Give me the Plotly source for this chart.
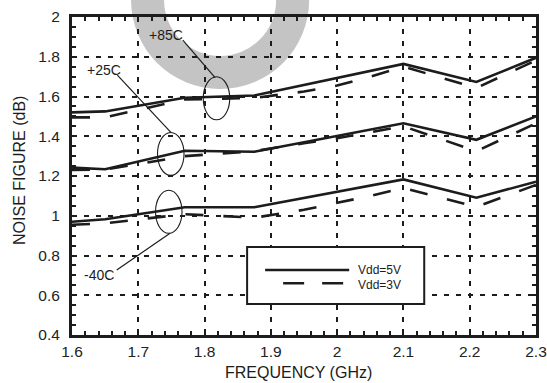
import plotly.graph_objects as go

# ---- data ----
freq_5v = [1.6, 1.65, 1.77, 1.875, 2.1, 2.21, 2.3]
nf_85_5v = [1.52, 1.525, 1.594, 1.605, 1.764, 1.673, 1.795]
nf_25_5v = [1.242, 1.234, 1.327, 1.322, 1.465, 1.382, 1.50]
nf_m40_5v = [0.970, 0.982, 1.043, 1.043, 1.183, 1.091, 1.171]

freq_3v = [1.6, 1.65, 1.77, 1.875, 1.95, 2.0, 2.05, 2.1, 2.21, 2.3]
nf_85_3v = [1.495, 1.495, 1.585, 1.593, 1.625, 1.655, 1.70, 1.75, 1.643, 1.782]
nf_25_3v = [1.23, 1.232, 1.30, 1.325, 1.365, 1.39, 1.42, 1.45, 1.325, 1.465]
nf_m40_3v = [0.955, 0.962, 1.008, 0.99, 1.03, 1.065, 1.10, 1.14, 1.045, 1.155]

x_ticks = [1.6, 1.7, 1.8, 1.9, 2.0, 2.1, 2.2, 2.3]
y_ticks = [0.4, 0.6, 0.8, 1.0, 1.2, 1.4, 1.6, 1.8, 2.0]

temp_labels = ["+85C", "+25C", "-40C"]
label_pos = [(1.7416, 1.909), (1.648, 1.733), (1.641, 0.702)]
ellipse_centers = [(1.818, 1.591), (1.749, 1.311), (1.746, 1.020)]
leader_start = [(1.7671, 1.884), (1.6684, 1.708), (1.6675, 0.727)]
leader_end = [(1.8159, 1.695), (1.7495, 1.418), (1.7479, 0.912)]
legend_names = ["Vdd=5V", "Vdd=3V"]

INK = "#1c1c1c"
FONT = "Liberation Sans, Arial, sans-serif"

fig = go.Figure()
for y in [nf_85_5v, nf_25_5v, nf_m40_5v]:
    fig.add_trace(go.Scatter(x=freq_5v, y=y, mode="lines",
                             line=dict(color=INK, width=2.6), showlegend=False,
                             hoverinfo="skip"))
for y in [nf_85_3v, nf_25_3v, nf_m40_3v]:
    fig.add_trace(go.Scatter(x=freq_3v, y=y, mode="lines",
                             line=dict(color=INK, width=2.6, dash="18px,20px"),
                             showlegend=False, hoverinfo="skip"))

# plot-area geometry in pixels (for paper conversions)
L, R, T, B = 72, 535.7, 17, 335
W, H = R - L, B - T


def px(u):
    return (u - L) / W


def py(v):
    return (B - v) / H


shapes = []
# watermark ring
cx, cy = 220, 0
for r, col in [(89, "#c4c4c4"), (56, "white")]:
    shapes.append(dict(type="circle", xref="paper", yref="paper", layer="below",
                       x0=px(cx - r), x1=px(cx + r), y0=py(cy + r), y1=py(cy - r),
                       fillcolor=col, line=dict(width=0)))

# ellipses and leader lines
for (ex, ey), (sx, sy), (tx, ty) in zip(ellipse_centers, leader_start, leader_end):
    shapes.append(dict(type="circle", xref="x", yref="y",
                       x0=ex - 0.0200, x1=ex + 0.0200, y0=ey - 0.108, y1=ey + 0.108,
                       line=dict(color=INK, width=1.1)))
    shapes.append(dict(type="line", xref="x", yref="y", x0=sx, y0=sy, x1=tx, y1=ty,
                       line=dict(color=INK, width=1.2)))

# legend box
shapes.append(dict(type="rect", xref="paper", yref="paper",
                   x0=px(247), x1=px(424), y0=py(304), y1=py(247),
                   fillcolor="white", line=dict(color=INK, width=2)))
shapes.append(dict(type="line", xref="paper", yref="paper",
                   x0=px(265), x1=px(349), y0=py(270), y1=py(270),
                   line=dict(color=INK, width=2.6)))
shapes.append(dict(type="line", xref="paper", yref="paper",
                   x0=px(283), x1=px(344), y0=py(283.3), y1=py(283.3),
                   line=dict(color=INK, width=2.6, dash="21px,18px")))

annotations = []
for t, (ax_, ay_) in zip(temp_labels, label_pos):
    annotations.append(dict(x=ax_, y=ay_, xref="x", yref="y", text=t, showarrow=False,
                            font=dict(family=FONT, size=14, color=INK),
                            xanchor="center", yanchor="middle"))
for name, yy in zip(legend_names, [270, 284.5]):
    annotations.append(dict(x=px(357), y=py(yy), xref="paper", yref="paper", text=name,
                            showarrow=False, xanchor="left", yanchor="middle",
                            borderpad=0,
                            font=dict(family=FONT, size=12, color=INK)))
annotations.append(dict(x=px(298), y=py(372), xref="paper", yref="paper",
                        text="FREQUENCY (GHz)", showarrow=False,
                        xanchor="center", yanchor="middle",
                        font=dict(family=FONT, size=16, color=INK)))
annotations.append(dict(x=px(19), y=py(170), xref="paper", yref="paper",
                        text="NOISE FIGURE (dB)", showarrow=False, textangle=-90,
                        xanchor="center", yanchor="middle",
                        font=dict(family=FONT, size=16, color=INK)))

axis_common = dict(showline=True, linecolor=INK, linewidth=3, mirror="allticks",
                   showgrid=True, gridcolor=INK, gridwidth=2, griddash="5px,7px",
                   ticks="inside", ticklen=4, tickcolor=INK, tickwidth=1.5,
                   zeroline=False, automargin=False,
                   tickfont=dict(family=FONT, size=15.5, color="#222"))

fig.update_xaxes(range=[1.6, 2.3], tickvals=x_ticks,
                 minor=dict(dtick=0.02, ticks="inside", ticklen=4, tickcolor=INK,
                            tickwidth=1.5, showgrid=False),
                 ticklabelstandoff=0, **axis_common)
fig.update_yaxes(range=[0.4, 2.0], tickvals=y_ticks,
                 minor=dict(dtick=0.05, ticks="inside", ticklen=4, tickcolor=INK,
                            tickwidth=1.5, showgrid=False),
                 ticklabelstandoff=6, **axis_common)

fig.update_layout(width=547, height=383,
                  margin=dict(l=L, r=547 - R, t=T, b=383 - B, pad=0, autoexpand=False),
                  plot_bgcolor="rgba(0,0,0,0)", paper_bgcolor="white",
                  shapes=shapes, annotations=annotations, showlegend=False)

fig.write_html("out.html",
               config={"displayModeBar": False, "responsive": False},
               post_script=("document.documentElement.style.overflow='hidden';"
                            "document.body.style.overflow='hidden';"
                            "document.body.style.margin='0';"
                            "document.body.style.padding='0';"))
